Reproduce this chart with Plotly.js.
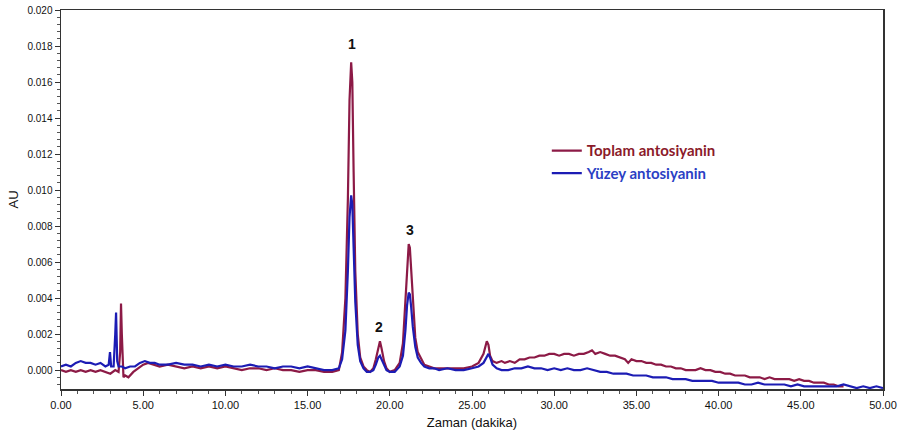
<!DOCTYPE html>
<html>
<head>
<meta charset="utf-8">
<script src="https://cdn.plot.ly/plotly-3.0.1.min.js"></script>
<style>html,body{margin:0;padding:0;background:#fff;}#chart{width:898px;height:434px;}</style>
</head>
<body>
<div id="chart"></div>
<script>
// Toplam antosiyanin (red)
const toplamTime = [0,0.3,0.6,0.9,1.2,1.5,1.8,2.1,2.4,2.7,3.0,3.3,3.5,3.6,3.65,3.7,3.75,3.8,3.9,4.1,4.4,4.7,5.0,5.3,5.6,6.0,6.5,7.0,7.5,8.0,8.5,9.0,9.5,10,10.5,11,11.5,12,12.5,13,13.5,14,14.5,15,15.5,16,16.5,16.9,17.1,17.3,17.45,17.55,17.65,17.72,17.8,17.9,18.05,18.2,18.4,18.6,18.8,19.0,19.15,19.3,19.4,19.5,19.65,19.8,20.0,20.3,20.6,20.8,20.95,21.05,21.15,21.22,21.3,21.4,21.55,21.7,21.9,22.1,22.4,22.7,23.0,23.5,24,24.5,25,25.4,25.7,25.9,26.0,26.1,26.25,26.5,26.8,27.0,27.3,27.6,27.9,28.2,28.5,28.8,29.1,29.4,29.7,30.0,30.3,30.6,30.9,31.2,31.5,31.8,32.1,32.3,32.5,32.8,33.1,33.4,33.7,34.0,34.3,34.5,34.7,35.0,35.3,35.6,35.9,36.2,36.5,36.8,37.1,37.4,37.7,38.0,38.3,38.6,38.9,39.2,39.5,39.8,40.1,40.4,40.7,41.0,41.3,41.6,41.9,42.2,42.5,42.8,43.1,43.4,43.7,44.0,44.3,44.6,44.9,45.2,45.5,45.8,46.1,46.4,46.7,47.0,47.3,47.6];
const toplamAU = [0.0000,-0.0001,0.0000,-0.0001,0.0000,-0.0001,0.0000,-0.0001,0.0000,-0.0001,-0.0002,0.0000,-0.0001,0.0010,0.0037,0.0020,0.0002,-0.0004,-0.0003,-0.0004,-0.0001,0.0001,0.0003,0.0004,0.0003,0.0002,0.0003,0.0002,0.0001,0.0002,0.0001,0.0002,0.0001,0.0002,0.0001,0.0000,0.0001,0.0001,0.0000,0.0001,0.0000,0.0000,-0.0001,0.0000,0.0000,-0.0001,-0.0001,0.0000,0.0010,0.0040,0.0095,0.0150,0.0171,0.0160,0.0110,0.0055,0.0020,0.0007,0.0002,0.0000,-0.0001,0.0001,0.0006,0.0013,0.0016,0.0012,0.0005,0.0001,-0.0001,0.0000,0.0004,0.0015,0.0038,0.0060,0.0070,0.0068,0.0055,0.0035,0.0018,0.0010,0.0006,0.0003,0.0002,0.0001,0.0001,0.0001,0.0001,0.0001,0.0002,0.0004,0.0009,0.0016,0.0014,0.0008,0.0005,0.0004,0.0005,0.0004,0.0005,0.0004,0.0006,0.0006,0.0007,0.0007,0.0008,0.0008,0.0009,0.0009,0.0008,0.0009,0.0009,0.0008,0.0009,0.0009,0.0010,0.0011,0.0009,0.0010,0.0009,0.0008,0.0008,0.0007,0.0006,0.0004,0.0006,0.0005,0.0005,0.0004,0.0004,0.0003,0.0003,0.0002,0.0002,0.0001,0.0001,0.0000,0.0000,0.0000,0.0001,0.0000,0.0000,-0.0001,-0.0001,-0.0002,-0.0002,-0.0003,-0.0003,-0.0003,-0.0004,-0.0004,-0.0004,-0.0005,-0.0004,-0.0005,-0.0005,-0.0005,-0.0005,-0.0006,-0.0005,-0.0006,-0.0006,-0.0007,-0.0007,-0.0007,-0.0008,-0.0008,-0.0009,-0.0009];

// Yüzey antosiyanin (blue)
const yuzeyTime = [0,0.3,0.6,0.9,1.2,1.5,1.8,2.1,2.4,2.7,2.9,2.98,3.05,3.2,3.3,3.35,3.42,3.5,3.7,3.9,4.2,4.5,4.8,5.1,5.4,5.7,6.0,6.5,7.0,7.5,8.0,8.5,9.0,9.5,10,10.5,11,11.5,12,12.5,13,13.5,14,14.5,15,15.5,16,16.5,16.9,17.1,17.3,17.45,17.55,17.65,17.72,17.8,17.9,18.05,18.2,18.4,18.6,18.8,19.0,19.15,19.3,19.4,19.5,19.65,19.8,20.0,20.3,20.6,20.8,20.95,21.05,21.15,21.22,21.3,21.4,21.55,21.7,21.9,22.1,22.4,22.7,23.0,23.5,24,24.5,25,25.4,25.7,25.9,26.0,26.1,26.25,26.5,26.8,27.2,27.6,28.0,28.4,28.8,29.2,29.6,30.0,30.4,30.8,31.2,31.6,32.0,32.4,32.8,33.2,33.6,34.0,34.4,34.8,35.2,35.6,36.0,36.4,36.8,37.2,37.6,38.0,38.4,38.8,39.2,39.6,40.0,40.4,40.8,41.2,41.6,42.0,42.4,42.8,43.2,43.6,44.0,44.4,44.8,45.2,45.6,46.0,46.4,46.8,47.2,47.6,48.0,48.4,48.8,49.2,49.6,50.0];
const yuzeyAU = [0.0002,0.0003,0.0002,0.0004,0.0005,0.0004,0.0004,0.0003,0.0004,0.0002,0.0003,0.0010,0.0002,0.0002,0.0020,0.0032,0.0005,0.0002,0.0002,0.0001,0.0002,0.0002,0.0004,0.0005,0.0004,0.0004,0.0003,0.0003,0.0004,0.0003,0.0003,0.0002,0.0003,0.0002,0.0003,0.0002,0.0002,0.0003,0.0002,0.0002,0.0001,0.0002,0.0002,0.0001,0.0002,0.0001,0.0000,0.0000,0.0001,0.0006,0.0022,0.0055,0.0085,0.0097,0.0092,0.0068,0.0038,0.0014,0.0005,0.0001,-0.0001,-0.0001,0.0000,0.0003,0.0007,0.0008,0.0006,0.0002,0.0000,-0.0001,-0.0001,0.0002,0.0008,0.0022,0.0036,0.0043,0.0042,0.0035,0.0024,0.0013,0.0007,0.0004,0.0002,0.0001,0.0001,0.0000,0.0001,0.0000,0.0000,0.0001,0.0002,0.0004,0.0008,0.0009,0.0007,0.0003,0.0001,0.0000,0.0000,0.0001,0.0001,0.0002,0.0001,0.0001,0.0000,0.0001,0.0000,0.0001,0.0000,0.0000,0.0001,0.0000,-0.0001,-0.0001,-0.0002,-0.0002,-0.0002,-0.0003,-0.0003,-0.0003,-0.0004,-0.0004,-0.0004,-0.0005,-0.0005,-0.0005,-0.0006,-0.0006,-0.0006,-0.0006,-0.0007,-0.0007,-0.0007,-0.0007,-0.0008,-0.0008,-0.0007,-0.0008,-0.0008,-0.0008,-0.0008,-0.0009,-0.0008,-0.0009,-0.0009,-0.0009,-0.0009,-0.0009,-0.0009,-0.0008,-0.0009,-0.0010,-0.0009,-0.0010,-0.0009,-0.0010];

const peakLabels = ['1','2','3'];
const peakLabelTime = [17.7, 19.35, 21.2];
const peakLabelAU = [0.0181, 0.0024, 0.0078];

const seriesNames = ['Toplam antosiyanin','Yüzey antosiyanin'];
const seriesColors = ['#8c1a46','#1c1cb4'];
const legendTextColors = ['#8b1a2a','#2b3fc4'];

const traces = [
  {x: toplamTime, y: toplamAU, type:'scatter', mode:'lines',
   name:'<span style="color:'+legendTextColors[0]+'">'+seriesNames[0]+'</span>',
   line:{color:seriesColors[0], width:2.2}},
  {x: yuzeyTime, y: yuzeyAU, type:'scatter', mode:'lines',
   name:'<span style="color:'+legendTextColors[1]+'">'+seriesNames[1]+'</span>',
   line:{color:seriesColors[1], width:2.2}}
];

const annotations = peakLabels.map((t,i)=>({
  x: peakLabelTime[i], y: peakLabelAU[i], xref:'x', yref:'y', text:'<b>'+t+'</b>',
  showarrow:false, font:{family:'Liberation Sans, Arial, sans-serif', size:14, color:'#111'}
}));

const layout = {
  width:898, height:434,
  margin:{l:61, r:15, t:10, b:45},
  paper_bgcolor:'#fff', plot_bgcolor:'#fff',
  showlegend:true,
  legend:{x:0.591, y:0.672, xanchor:'left', yanchor:'top', bgcolor:'rgba(0,0,0,0)',
    font:{family:'Lato, Carlito, sans-serif', size:15, weight:'bold'}, tracegroupgap:0},
  xaxis:{range:[0,50], tickvals:[0,5,10,15,20,25,30,35,40,45,50], tickformat:'.2f',
    showgrid:false, zeroline:false, showline:true, linecolor:'#333', linewidth:1.5, mirror:true,
    ticks:'outside', ticklen:5, tickcolor:'#333', tickwidth:1,
    minor:{dtick:1, ticks:'outside', ticklen:3, tickcolor:'#555', showgrid:false},
    tickfont:{family:'Liberation Sans, Arial, sans-serif', size:11, color:'#111'},
    title:{text:'Zaman (dakika)', standoff:8, font:{family:'Liberation Sans, Arial, sans-serif', size:13, color:'#111'}}},
  yaxis:{range:[-0.00105,0.020], tickvals:[0,0.002,0.004,0.006,0.008,0.010,0.012,0.014,0.016,0.018,0.020], tickformat:'.3f',
    showgrid:false, zeroline:false, showline:true, linecolor:'#333', linewidth:1.5, mirror:true,
    ticks:'outside', ticklen:5, tickcolor:'#333', tickwidth:1,
    minor:{dtick:0.0004, ticks:'outside', ticklen:3, tickcolor:'#555', showgrid:false},
    tickfont:{family:'Liberation Sans, Arial, sans-serif', size:10, color:'#111'},
    title:{text:'AU', standoff:6, font:{family:'Liberation Sans, Arial, sans-serif', size:13, color:'#111'}}},
  annotations: annotations
};

Plotly.newPlot('chart', traces, layout, {displayModeBar:false, staticPlot:true});
</script>
</body>
</html>
